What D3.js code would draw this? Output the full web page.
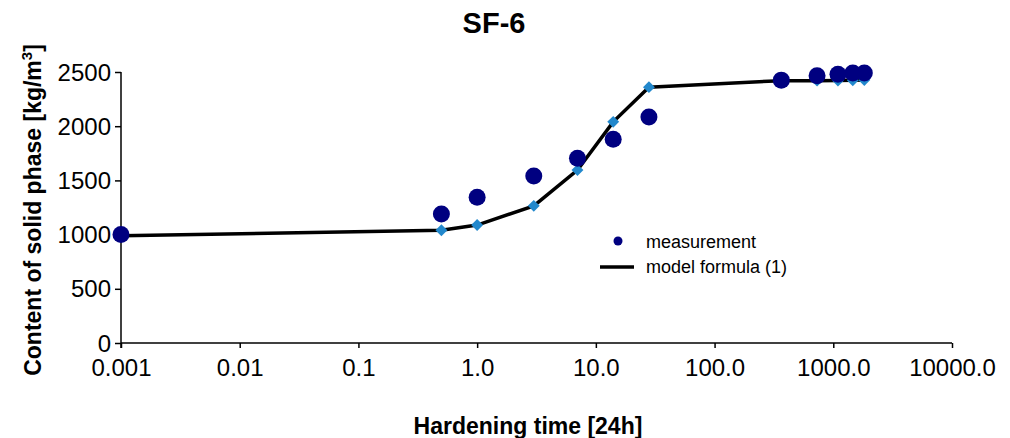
<!DOCTYPE html>
<html>
<head>
<meta charset="utf-8">
<script src="https://cdn.jsdelivr.net/npm/d3@7"></script>
<style>
  body { margin: 0; background: #fff; }
  text { font-family: Arial, "Liberation Sans", sans-serif; }
</style>
</head>
<body>
<svg id="chart" width="1010" height="438"></svg>
<script>
// measurement points (hardening time in days, density kg/m3)
var measTime = [0.001, 0.5, 1, 3, 7, 14, 28, 365, 730, 1095, 1460, 1825];
var measValue = [1000, 1190, 1345, 1540, 1705, 1880, 2085, 2425, 2465, 2480, 2490, 2490];

// model formula (1)
var modelTime = [0.001, 0.5, 1, 3, 7, 14, 28, 365, 730, 1095, 1460, 1825];
var modelValue = [990, 1040, 1088, 1265, 1595, 2040, 2360, 2420, 2420, 2422, 2424, 2426];

var xTicks = [0.001, 0.01, 0.1, 1, 10, 100, 1000, 10000];
var xTickLabels = ["0.001", "0.01", "0.1", "1.0", "10.0", "100.0", "1000.0", "10000.0"];
var yTicks = [0, 500, 1000, 1500, 2000, 2500];

var svg = d3.select("#chart");

var x = d3.scaleLog().domain([0.001, 10000]).range([121, 952]);
var y = d3.scaleLinear().domain([0, 2500]).range([343, 72]);

// axes
var xAxis = d3.axisBottom(x)
    .tickValues(xTicks)
    .tickSize(5)
    .tickFormat(function(d, i) { return xTickLabels[i]; });

var yAxis = d3.axisLeft(y)
    .tickValues(yTicks)
    .tickSize(6)
    .tickPadding(4)
    .tickFormat(d3.format("d"));

var gx = svg.append("g").attr("transform", "translate(0,343)").call(xAxis);
gx.select(".domain").attr("d", "M121,0H952").attr("stroke", "#000").attr("stroke-width", 1.5);
gx.selectAll(".tick line").attr("stroke", "#000").attr("stroke-width", 1.5);
gx.selectAll(".tick text")
  .attr("y", 33)
  .attr("dy", 0)
  .style("font-size", "24px")
  .attr("fill", "#000");

var gy = svg.append("g").attr("transform", "translate(121,0)").call(yAxis);
gy.select(".domain").attr("d", "M0,72V348").attr("stroke", "#000").attr("stroke-width", 1.5);
gy.selectAll(".tick line").attr("stroke", "#000").attr("stroke-width", 1.5);
gy.selectAll(".tick text")
  .style("font-size", "24px")
  .attr("dy", "0.34em")
  .attr("fill", "#000");

// model line
var modelData = modelTime.map(function(t, i) { return [t, modelValue[i]]; });
var line = d3.line()
    .x(function(d) { return x(d[0]); })
    .y(function(d) { return y(d[1]); });

svg.append("path")
  .datum(modelData)
  .attr("d", line)
  .attr("fill", "none")
  .attr("stroke", "#000")
  .attr("stroke-width", 3.5);

// model diamonds
svg.selectAll(".diamond").data(modelData).enter()
  .append("path")
  .attr("class", "diamond")
  .attr("d", d3.symbol().type(d3.symbolDiamond2).size(90))
  .attr("transform", function(d) { return "translate(" + x(d[0]) + "," + y(d[1]) + ")"; })
  .attr("fill", "#2288cc");

// measurements
var measData = measTime.map(function(t, i) { return [t, measValue[i]]; });
svg.selectAll(".meas").data(measData).enter()
  .append("circle")
  .attr("class", "meas")
  .attr("cx", function(d) { return x(d[0]); })
  .attr("cy", function(d) { return y(d[1]); })
  .attr("r", 8.5)
  .attr("fill", "#000080");

// legend
var lg = svg.append("g");
lg.append("circle").attr("cx", 618).attr("cy", 241).attr("r", 4.5).attr("fill", "#000080");
lg.append("text").attr("x", 646).attr("y", 248).style("font-size", "18px").text("measurement");
lg.append("line").attr("x1", 600).attr("x2", 634).attr("y1", 267).attr("y2", 267)
  .attr("stroke", "#000").attr("stroke-width", 3.5);
lg.append("text").attr("x", 646).attr("y", 273).style("font-size", "18px").text("model formula (1)");

// titles
svg.append("text")
  .attr("x", 494).attr("y", 33)
  .attr("text-anchor", "middle")
  .style("font-size", "29px").style("font-weight", "bold")
  .text("SF-6");

svg.append("text")
  .attr("x", 528).attr("y", 434)
  .attr("text-anchor", "middle")
  .style("font-size", "23px").style("font-weight", "bold")
  .text("Hardening time [24h]");

var yl = svg.append("text")
  .attr("transform", "translate(41,210) rotate(-90)")
  .attr("text-anchor", "middle")
  .style("font-size", "23px").style("font-weight", "bold");
yl.append("tspan").text("Content of solid phase [kg/m");
yl.append("tspan").attr("dy", -9).style("font-size", "15px").text("3");
yl.append("tspan").attr("dy", 9).text("]");
</script>
</body>
</html>
